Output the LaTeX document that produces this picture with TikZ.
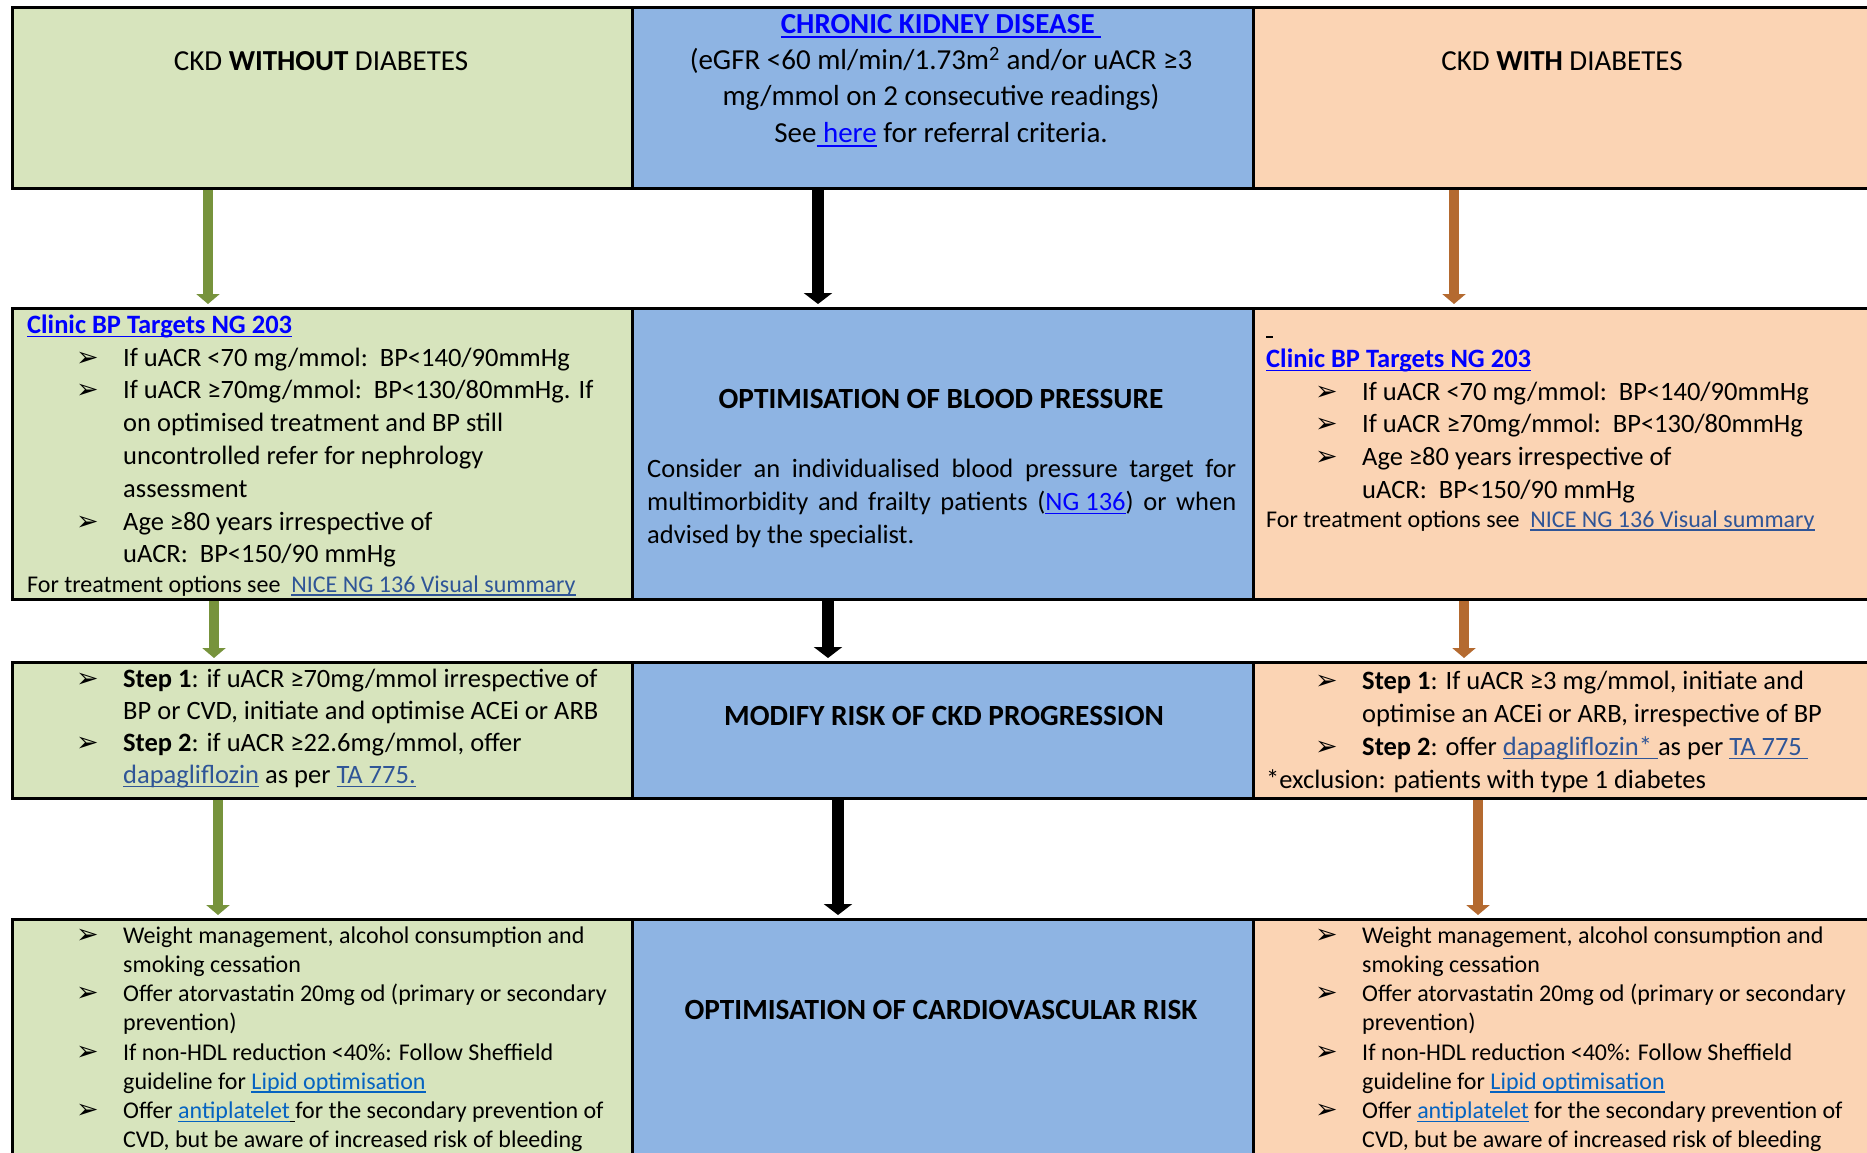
\documentclass[tikz,border=0pt]{standalone}
\usepackage{fontspec}
\setmainfont{Carlito}
\newfontfamily\dejavu{DejaVu Sans}
\usetikzlibrary{arrows.meta}
\definecolor{gfillc}{HTML}{D7E4BD}
\definecolor{bfillc}{HTML}{8EB4E3}
\definecolor{ofillc}{HTML}{FBD4B4}
\definecolor{garrc}{HTML}{77933C}
\definecolor{oarrc}{HTML}{B46A30}
\definecolor{lnka}{HTML}{0000FF}
\definecolor{lnkb}{HTML}{2F5597}
\definecolor{lnkc}{HTML}{0563C1}
\newcommand\ulk[1]{\setbox0=\hbox{#1}\rlap{\rule[-0.16em]{\wd0}{0.07em}}\box0}
\newcommand\topstr{\rule{0pt}{24pt}}
\newcommand\mk{{\dejavu\fontsize{27}{27}\selectfont ➢}}
\newcommand\bul{\makebox[96pt][l]{\hspace*{49pt}\mk}}
\newcommand\ind{\hspace*{96pt}}
\pgfdeclarelayer{bg}
\pgfsetlayers{bg,main}
\begin{document}
\begin{tikzpicture}[x=1pt,y=-1pt,
  box/.style={draw=black,line width=2.5pt,anchor=north west,inner sep=0pt,minimum width=620pt},
  gbox/.style={box,fill=gfillc},
  bbox/.style={box,fill=bfillc,minimum width=621pt},
  obox/.style={box,fill=ofillc},
  txt/.style={anchor=north west,inner sep=0pt,align=left},
  headA/.style={anchor=base,inner sep=0pt,font=\fontsize{29}{36}\selectfont},
  headB/.style={anchor=base,inner sep=0pt,font=\bfseries\fontsize{29.3}{34}\selectfont},
  footA/.style={anchor=base west,inner sep=0pt,font=\fontsize{24}{29}\selectfont},
  arr/.style={line width=10pt,-{Triangle[length=10pt,width=23pt]},shorten >=3pt},
  garr/.style={arr,draw=garrc},
  oarr/.style={arr,draw=oarrc},
  karr/.style={line width=12pt,-{Triangle[length=11pt,width=28pt]},shorten >=3pt,draw=black}
]
\clip (0,0) rectangle (1867,1152);
\useasboundingbox (0,0) rectangle (1867,1152);

% boxes
\node[gbox,minimum height=181pt] (g1) at (11,6) {};
\node[bbox,minimum height=181pt] (b1) at (631,6) {};
\node[obox,minimum height=181pt] (o1) at (1252,6) {};
\node[gbox,minimum height=291pt] (g2) at (11,307) {};
\node[bbox,minimum height=291pt] (b2) at (631,307) {};
\node[obox,minimum height=291pt] (o2) at (1252,307) {};
\node[gbox,minimum height=136pt] (g3) at (11,661) {};
\node[bbox,minimum height=136pt] (b3) at (631,661) {};
\node[obox,minimum height=136pt] (o3) at (1252,661) {};
\node[gbox,minimum height=260pt] (g4) at (11,918) {};
\node[bbox,minimum height=260pt] (b4) at (631,918) {};
\node[obox,minimum height=260pt] (o4) at (1252,918) {};

% arrows
\coordinate (xg1) at (208,0);
\coordinate (xb1) at (818,0);
\coordinate (xo1) at (1454,0);
\coordinate (xg2) at (214,0);
\coordinate (xb2) at (828,0);
\coordinate (xo2) at (1464,0);
\coordinate (xg3) at (218,0);
\coordinate (xb3) at (838,0);
\coordinate (xo3) at (1478,0);
\begin{pgfonlayer}{bg}
\fill[white] (0,0) rectangle (1867,1152);
\draw[garr] (g1.south -| xg1) -- (g2.north -| xg1);
\draw[karr] (b1.south -| xb1) -- (b2.north -| xb1);
\draw[oarr] (o1.south -| xo1) -- (o2.north -| xo1);
\draw[garr] (g2.south -| xg2) -- (g3.north -| xg2);
\draw[karr] (b2.south -| xb2) -- (b3.north -| xb2);
\draw[oarr] (o2.south -| xo2) -- (o3.north -| xo2);
\draw[garr] (g3.south -| xg3) -- (g4.north -| xg3);
\draw[karr] (b3.south -| xb3) -- (b4.north -| xb3);
\draw[oarr] (o3.south -| xo3) -- (o4.north -| xo3);
\end{pgfonlayer}

% row 1
\node[headA] (g1t) at (321,70) {CKD \textbf{WITHOUT} DIABETES};
\node[headA] (o1t) at (1562,70) {CKD \textbf{WITH} DIABETES};
\node[anchor=north,align=center,inner sep=0pt,font=\fontsize{29}{36.3}\selectfont] (b1t) at (941,9)
  {\topstr\textcolor{lnka}{\textbf{\ulk{CHRONIC KIDNEY DISEASE }}}\\
   (eGFR <60 ml/min/1.73m\textsuperscript{2} and/or uACR ≥3\\
   mg/mmol on 2 consecutive readings)\\
   See\textcolor{lnka}{\ulk{ here}} for referral criteria.};

% row 2
\node[txt,font=\fontsize{26.5}{32.8}\selectfont] (g2t) at (27,309)
  {\topstr\textcolor{lnka}{\textbf{\ulk{Clinic BP Targets NG 203}}}\\
   \bul If uACR <70 mg/mmol:\ \ BP<140/90mmHg\\
   \bul If uACR ≥70mg/mmol:\ \ BP<130/80mmHg. If\\
   \ind on optimised treatment and BP still\\
   \ind uncontrolled refer for nephrology\\
   \ind assessment\\
   \bul Age ≥80 years irrespective of\\
   \ind uACR:\ \ BP<150/90 mmHg};
\node[footA] (g2f) at (27,592) {For treatment options see\ \ \textcolor{lnkb}{\ulk{NICE NG 136 Visual summary}}};

\node[headB] (b2h) at (941,408) {OPTIMISATION OF BLOOD PRESSURE};
\node[anchor=north west,inner sep=0pt,text width=589pt,align=justify,font=\fontsize{26.5}{33}\selectfont] (b2p) at (647,453)
  {\noindent\topstr Consider an individualised blood pressure target for\linebreak
   multimorbidity and frailty patients (\textcolor{lnka}{\ulk{NG 136}}) or when\linebreak
   advised by the specialist.};

\node[anchor=base west,inner sep=0pt] (o2d) at (1266,338) {\rule{7pt}{2pt}};
\node[txt,font=\fontsize{26.5}{32.8}\selectfont] (o2t) at (1266,343)
  {\topstr\textcolor{lnka}{\textbf{\ulk{Clinic BP Targets NG 203}}}\\
   \bul If uACR <70 mg/mmol:\ \ BP<140/90mmHg\\
   \bul If uACR ≥70mg/mmol:\ \ BP<130/80mmHg\\
   \bul Age ≥80 years irrespective of\\
   \ind uACR:\ \ BP<150/90 mmHg};
\node[footA] (o2f) at (1266,527) {For treatment options see\ \ \textcolor{lnkb}{\ulk{NICE NG 136 Visual summary}}};

% row 3
\node[txt,font=\fontsize{26.5}{32}\selectfont] (g3t) at (27,663)
  {\topstr\bul\textbf{Step 1}: if uACR ≥70mg/mmol irrespective of\\
   \ind BP or CVD, initiate and optimise ACEi or ARB\\
   \bul\textbf{Step 2}: if uACR ≥22.6mg/mmol, offer\\
   \ind\textcolor{lnkb}{\ulk{dapagliflozin}} as per \textcolor{lnkb}{\ulk{TA 775.}}};
\node[headB] (b3h) at (944,725) {MODIFY RISK OF CKD PROGRESSION};
\node[txt,font=\fontsize{26.5}{33}\selectfont] (o3t) at (1266,665)
  {\topstr\bul\textbf{Step 1}: If uACR ≥3 mg/mmol, initiate and\\
   \ind optimise an ACEi or ARB, irrespective of BP\\
   \bul\textbf{Step 2}: offer \textcolor{lnkb}{\ulk{dapagliflozin*\ }}as per \textcolor{lnkb}{\ulk{TA 775\ }}\\
   {*}exclusion: patients with type 1 diabetes};

% row 4
\node[txt,font=\fontsize{24}{29.2}\selectfont] (g4t) at (27,919)
  {\topstr\bul Weight management, alcohol consumption and\\
   \ind smoking cessation\\
   \bul Offer atorvastatin 20mg od (primary or secondary\\
   \ind prevention)\\
   \bul If non-HDL reduction <40\%: Follow Sheffield\\
   \ind guideline for \textcolor{lnkc}{\ulk{Lipid optimisation}}\\
   \bul Offer \textcolor{lnkc}{\ulk{antiplatelet}}\ulk{\ }for the secondary prevention of\\
   \ind CVD, but be aware of increased risk of bleeding};
\node[headB] (b4h) at (941,1019) {OPTIMISATION OF CARDIOVASCULAR RISK};
\node[txt,font=\fontsize{24}{29.2}\selectfont] (o4t) at (1266,919)
  {\topstr\bul Weight management, alcohol consumption and\\
   \ind smoking cessation\\
   \bul Offer atorvastatin 20mg od (primary or secondary\\
   \ind prevention)\\
   \bul If non-HDL reduction <40\%: Follow Sheffield\\
   \ind guideline for \textcolor{lnkc}{\ulk{Lipid optimisation}}\\
   \bul Offer \textcolor{lnkc}{\ulk{antiplatelet}} for the secondary prevention of\\
   \ind CVD, but be aware of increased risk of bleeding};
\end{tikzpicture}
\end{document}
